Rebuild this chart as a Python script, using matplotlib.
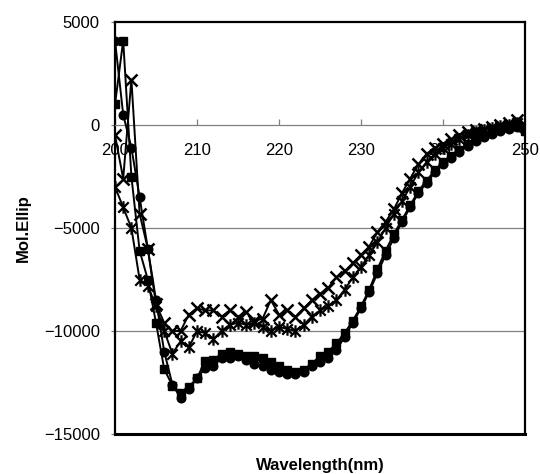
import matplotlib
matplotlib.use("Agg")
import matplotlib.pyplot as plt
from matplotlib.path import Path
import numpy as np

plt.rcParams['font.family'] = ['Liberation Sans', 'DejaVu Sans']
plt.rcParams['axes.unicode_minus'] = True

wavelength = list(range(200, 251))

circles = [4100, 500, -1100, -3500, -6000, -8500, -11000, -12600, -13250, -12800,
           -12300, -11800, -11700, -11300, -11300, -11200, -11400, -11600, -11700, -11900,
           -12000, -12100, -12100, -12000, -11700, -11500, -11300, -10900, -10300, -9600,
           -8900, -8100, -7200, -6300, -5500, -4700, -4000, -3300, -2800, -2300,
           -1900, -1600, -1300, -1000, -800, -600, -450, -300, -200, -100, -250]

squares = [1000, 4100, -2500, -6100, -7500, -9600, -11850, -12650, -13000, -12700,
           -12300, -11450, -11400, -11100, -11000, -11100, -11200, -11200, -11300, -11500,
           -11700, -11900, -12000, -11900, -11600, -11200, -11000, -10600, -10100, -9500,
           -8800, -8000, -7000, -6100, -5300, -4600, -3900, -3200, -2700, -2200,
           -1800, -1500, -1200, -900, -700, -500, -350, -200, -100, -50, -300]

crosses = [-500, -2600, 2200, -4300, -6000, -8700, -9600, -10000, -10000, -9200,
           -8900, -9000, -9000, -9300, -9000, -9300, -9100, -9500, -9400, -8500,
           -9200, -9000, -9300, -8900, -8500, -8200, -7900, -7400, -7100, -6700,
           -6300, -5900, -5200, -4700, -4100, -3300, -2600, -1900, -1400, -1100,
           -900, -700, -500, -350, -250, -200, -100, 0, 100, 250, -50]

stars = [-3000, -4000, -5000, -7500, -7800, -8800, -10000, -11100, -10500, -10800,
         -10000, -10100, -10400, -10000, -9700, -9600, -9700, -9600, -9800, -10000,
         -9800, -9900, -10000, -9700, -9300, -9000, -8800, -8500, -8000, -7400,
         -6900, -6300, -5700, -5000, -4300, -3700, -3000, -2300, -1800, -1400,
         -1100, -900, -700, -500, -350, -250, -150, -50, 0, 100, 0]

xticks = [200, 210, 220, 230, 240, 250]
yticks = [5000, 0, -5000, -10000, -15000]

star_marker = Path([(-1, -1), (1, 1), (-1, 1), (1, -1), (0, -1.2), (0, 1.2)],
                   [Path.MOVETO, Path.LINETO, Path.MOVETO, Path.LINETO, Path.MOVETO, Path.LINETO])

fig = plt.figure(figsize=(5.4, 4.74), dpi=100)
ax = fig.add_axes([115/540, 1-434/474, 410/540, 412/474])

lw = 1.4
ax.plot(wavelength, stars, color='black', lw=lw, marker=star_marker, ms=9, mew=1.6, zorder=3)
ax.plot(wavelength, crosses, color='black', lw=lw, marker='x', ms=8, mew=1.8, zorder=3)
ax.plot(wavelength, squares, color='black', lw=lw, marker='s', ms=5.5, zorder=4)
ax.plot(wavelength, circles, color='black', lw=lw, marker='o', ms=6.2, zorder=4)

ax.set_xlim(200, 250)
ax.set_ylim(-15000, 5000)
for g in [-5000, -10000]:
    ax.axhline(g, color='#808080', lw=0.9, zorder=1)

ax.set_yticks(yticks)
ax.set_xticks(xticks)
ax.spines['bottom'].set_position(('data', 0))
ax.spines['bottom'].set_color('#808080')
ax.spines['bottom'].set_linewidth(0.9)
for s in ['left', 'top', 'right']:
    ax.spines[s].set_linewidth(1.6)
    ax.spines[s].set_color('black')
ax.plot([0, 1], [0, 0], transform=ax.transAxes, color='black', lw=2.2, clip_on=False, zorder=5)

ax.tick_params(axis='x', direction='in', length=4, width=0.9, color='#808080',
               pad=13, labelsize=12)
ax.tick_params(axis='y', direction='out', length=3, width=0.9, color='#808080',
               labelsize=12, pad=8)

ax.set_ylabel('Mol.Ellip', fontsize=12, fontweight='bold')
ax.yaxis.set_label_coords(-0.205, 0.5)
ax.set_xlabel('Wavelength(nm)', fontsize=12, fontweight='bold')
ax.xaxis.set_label_coords(0.5, -0.058)

fig.savefig('out.png', dpi=100)
